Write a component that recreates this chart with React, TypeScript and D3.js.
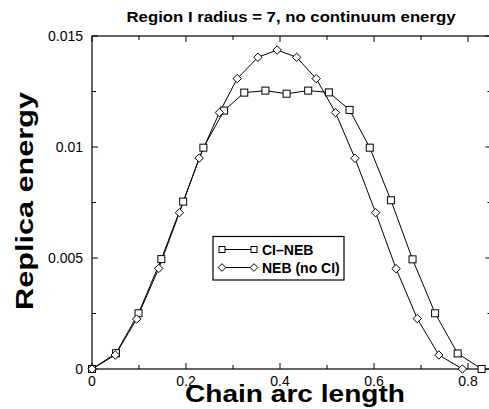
import React from "react";
import * as d3 from "d3";

const ciNebX = [0, 0.051, 0.099, 0.1475, 0.194, 0.237, 0.281, 0.324, 0.369, 0.414, 0.46, 0.504, 0.548, 0.591, 0.636, 0.682, 0.73, 0.778, 0.829];
const ciNebY = [0, 0.00071, 0.00251, 0.00495, 0.00754, 0.00997, 0.01164, 0.01245, 0.01254, 0.0124, 0.01254, 0.01246, 0.01167, 0.00997, 0.0076, 0.00494, 0.00251, 0.0007, 0];
const nebX = [0, 0.0496, 0.095, 0.142, 0.186, 0.228, 0.271, 0.309, 0.353, 0.394, 0.4355, 0.477, 0.518, 0.5596, 0.6035, 0.647, 0.692, 0.738, 0.788];
const nebY = [0, 0.00063, 0.00225, 0.00453, 0.00704, 0.0095, 0.01155, 0.01308, 0.01404, 0.01437, 0.01404, 0.01308, 0.01155, 0.00949, 0.00704, 0.00452, 0.00227, 0.00063, 0];

const xMajor = [0, 0.2, 0.4, 0.6, 0.8];
const xTickLabels = ["0", "0.2", "0.4", "0.6", "0.8"];
const xMinor = [0.1, 0.3, 0.5, 0.7];
const yMajor = [0, 0.005, 0.01, 0.015];
const yTickLabels = ["0", "0.005", "0.01", "0.015"];
const yMinor = [0.0025, 0.0075, 0.0125];

const seriesNames = ["CI\u2013NEB", "NEB (no CI)"];
const title = "Region I radius = 7, no continuum energy";
const xTitle = "Chain arc length";
const yTitle = "Replica energy";

const W = 489;
const H = 409;
const L = 92;
const R = 491.5;
const T = 36;
const B = 369;

const FONT = "'Liberation Sans', Arial, Helvetica, sans-serif";

function Square({ x, y, s }: { x: number; y: number; s: number }) {
  return <rect x={x - s / 2} y={y - s / 2} width={s} height={s} fill="#fff" stroke="#000" strokeWidth={1} />;
}
function Diamond({ x, y, s }: { x: number; y: number; s: number }) {
  return (
    <path
      d={`M${x},${y - s}L${x + s},${y}L${x},${y + s}L${x - s},${y}Z`}
      fill="#fff"
      stroke="#000"
      strokeWidth={1}
    />
  );
}

export default function App() {
  const x = d3.scaleLinear().domain([0, 0.85]).range([L, R]);
  const y = d3.scaleLinear().domain([0, 0.015]).range([B, T]);
  const line = d3
    .line<[number, number]>()
    .x((d) => x(d[0]))
    .y((d) => y(d[1]));
  const ci: [number, number][] = ciNebX.map((v, i) => [v, ciNebY[i]]);
  const neb: [number, number][] = nebX.map((v, i) => [v, nebY[i]]);

  return (
    <svg
      width={W}
      height={H}
      style={{ position: "absolute", left: 0, top: 0, background: "#fff" }}
      fontFamily={FONT}
    >
      <rect x={0} y={0} width={W} height={H} fill="#fff" />
      {/* frame */}
      <rect x={L} y={T} width={R - L} height={B - T} fill="none" stroke="#000" strokeWidth={1.2} />
      {/* x ticks */}
      {xMajor.map((v) => (
        <g key={"xM" + v}>
          <line x1={x(v)} x2={x(v)} y1={B} y2={B - 6} stroke="#000" />
          <line x1={x(v)} x2={x(v)} y1={T} y2={T + 6} stroke="#000" />
        </g>
      ))}
      {xMinor.map((v) => (
        <g key={"xm" + v}>
          <line x1={x(v)} x2={x(v)} y1={B} y2={B - 4} stroke="#000" />
          <line x1={x(v)} x2={x(v)} y1={T} y2={T + 4} stroke="#000" />
        </g>
      ))}
      {yMajor.map((v) => (
        <g key={"yM" + v}>
          <line x1={L} x2={L + 6} y1={y(v)} y2={y(v)} stroke="#000" />
          <line x1={R} x2={R - 6} y1={y(v)} y2={y(v)} stroke="#000" />
        </g>
      ))}
      {yMinor.map((v) => (
        <g key={"ym" + v}>
          <line x1={L} x2={L + 4} y1={y(v)} y2={y(v)} stroke="#000" />
          <line x1={R} x2={R - 4} y1={y(v)} y2={y(v)} stroke="#000" />
        </g>
      ))}
      {/* tick labels */}
      {xMajor.map((v, i) => (
        <text key={"xl" + v} x={x(v)} y={386} textAnchor="middle" fontSize={14} fill="#000">
          {xTickLabels[i]}
        </text>
      ))}
      {yMajor.map((v, i) => (
        <text key={"yl" + v} x={83} y={y(v) + 5} textAnchor="end" fontSize={14} fill="#000">
          {yTickLabels[i]}
        </text>
      ))}
      {/* series */}
      <path d={line(ci) || ""} fill="none" stroke="#000" strokeWidth={1} />
      <path d={line(neb) || ""} fill="none" stroke="#000" strokeWidth={1} />
      {ci.map((d, i) => (
        <Square key={"s" + i} x={x(d[0])} y={y(d[1])} s={7} />
      ))}
      {neb.map((d, i) => (
        <Diamond key={"d" + i} x={x(d[0])} y={y(d[1])} s={4.2} />
      ))}
      {/* legend */}
      <rect x={213} y={236.5} width={131} height={43.5} fill="#fff" stroke="#000" strokeWidth={1.2} />
      <line x1={222} x2={254} y1={249.5} y2={249.5} stroke="#000" />
      <Square x={222} y={249.5} s={6} />
      <Square x={254} y={249.5} s={6} />
      <text x={262} y={254.5} fontSize={14} fontWeight="bold" fill="#000">
        {seriesNames[0]}
      </text>
      <line x1={222} x2={254} y1={267.5} y2={267.5} stroke="#000" />
      <Diamond x={222} y={267.5} s={3.8} />
      <Diamond x={254} y={267.5} s={3.8} />
      <text x={262} y={272.5} fontSize={14} fontWeight="bold" fill="#000">
        {seriesNames[1]}
      </text>
      {/* titles */}
      <text
        x={126.5}
        y={22}
        fontSize={14}
        fontWeight="bold"
        textLength={329}
        lengthAdjust="spacingAndGlyphs"
        fill="#000"
      >
        {title}
      </text>
      <text
        x={185}
        y={402}
        fontSize={23}
        fontWeight="bold"
        textLength={220}
        lengthAdjust="spacingAndGlyphs"
        fill="#000"
      >
        {xTitle}
      </text>
      <text
        transform={`translate(33,310) rotate(-90)`}
        x={0}
        y={0}
        fontSize={24}
        fontWeight="bold"
        textLength={218}
        lengthAdjust="spacingAndGlyphs"
        fill="#000"
      >
        {yTitle}
      </text>
    </svg>
  );
}
